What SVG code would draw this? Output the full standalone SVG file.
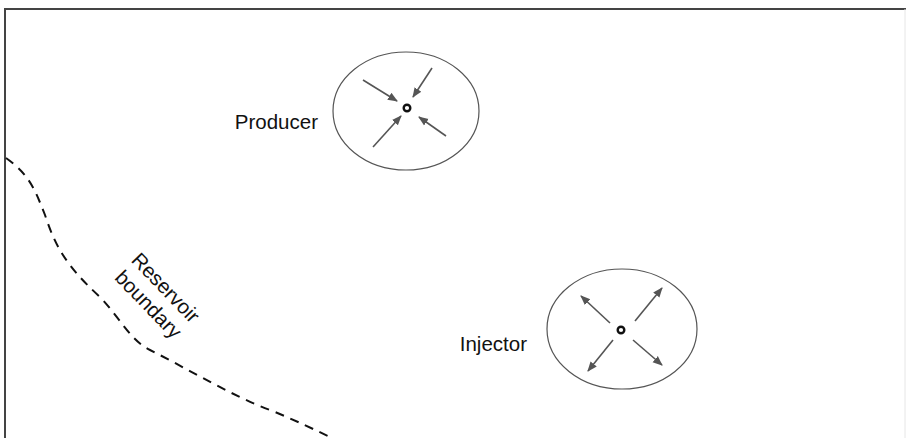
<svg xmlns="http://www.w3.org/2000/svg" width="906" height="438" viewBox="0 0 906 438">
<style>
.frame{stroke:#444;stroke-width:2;fill:none}
.ell{fill:none;stroke:#555;stroke-width:1.2}
.well{fill:none;stroke:#111;stroke-width:2.4}
.arr{stroke:#555;stroke-width:1.6;fill:none;marker-end:url(#ah)}
.lbl{font-family:"Liberation Sans",Arial,sans-serif;font-size:20.5px;fill:#111}
.bnd{fill:none;stroke:#111;stroke-width:2;stroke-dasharray:9,7}
</style>
<defs>
<marker id="ah" viewBox="0 0 10 10" refX="9" refY="5" markerWidth="10" markerHeight="10" markerUnits="userSpaceOnUse" orient="auto">
<path d="M0,1 L10,5 L0,9 Z" fill="#555"/>
</marker>
</defs>
<rect width="906" height="438" fill="#fff"/>
<g id="frame">
<path class="frame" d="M5,438 V9 H906"/>
<path d="M905,9 V438" stroke="#e6e6e6" stroke-width="1" fill="none"/>
</g>
<g id="boundary">
<path class="bnd" d="M6,158 C30,175 35,190 45,215 C55,245 65,265 100,297 C120,318 130,340 150,350 C190,370 230,395 270,410 C295,420 315,430 330,437"/>
<text class="lbl" transform="translate(157,296) rotate(46)" text-anchor="middle"><tspan x="0" y="-5">Reservoir</tspan><tspan x="0" y="19">boundary</tspan></text>
</g>
<g id="producer">
<ellipse class="ell" cx="406" cy="111" rx="73" ry="59"/>
<circle class="well" cx="407" cy="108" r="3.3"/>
<text class="lbl" x="318" y="129" text-anchor="end">Producer</text>
</g>
<g id="injector">
<ellipse class="ell" cx="622" cy="329" rx="75" ry="60"/>
<circle class="well" cx="621" cy="330" r="3.3"/>
<text class="lbl" x="527" y="351" text-anchor="end">Injector</text>
</g>
<g id="connectors">
<line class="arr" x1="363" y1="80" x2="397" y2="101"/>
<line class="arr" x1="432" y1="68" x2="413" y2="97"/>
<line class="arr" x1="373" y1="147" x2="401" y2="116"/>
<line class="arr" x1="446" y1="136" x2="419" y2="117"/>
<line class="arr" x1="610" y1="323" x2="581" y2="296"/>
<line class="arr" x1="635" y1="321" x2="662" y2="288"/>
<line class="arr" x1="613" y1="340" x2="588" y2="371"/>
<line class="arr" x1="633" y1="340" x2="662" y2="365"/>
</g>
</svg>
